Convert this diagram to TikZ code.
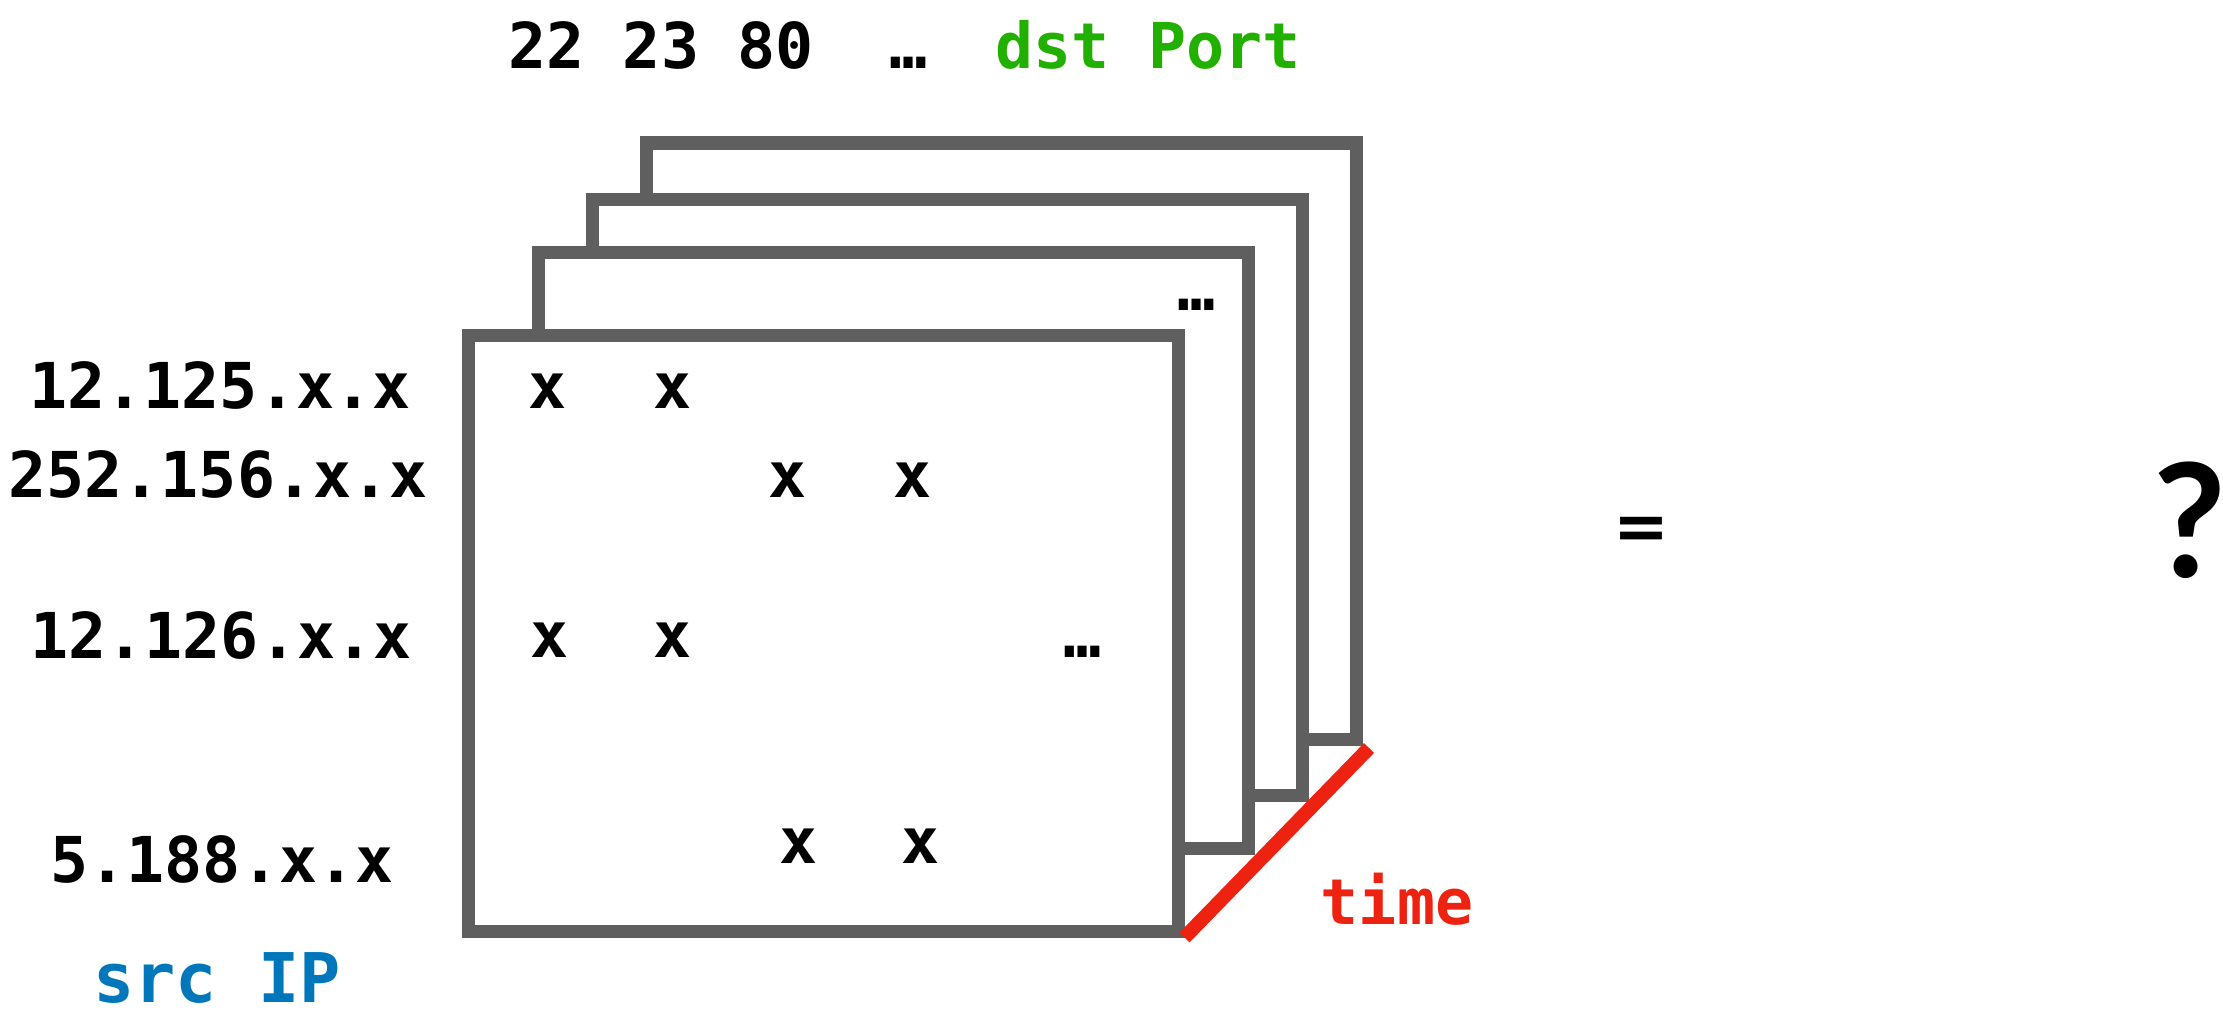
\documentclass[tikz,border=0pt]{standalone}
\usepackage{fontspec}
\setmonofont{DejaVu Sans Mono}
\newfontfamily\eqfont{DejaVu Sans}
\newfontfamily\quesfont{Lato}
\usepackage{tikz}

\definecolor{frameGray}{RGB}{95,95,95}
\definecolor{ipBlue}{RGB}{0,119,187}
\definecolor{portGreen}{RGB}{34,176,0}
\definecolor{timeRed}{RGB}{238,34,17}

\newcommand{\tableFrame}[3]
{
    \node[tableframe] (#1) at (#2,#3) {};
}
\newcommand\cellX[3]{
        \node[cellx] (#1) at (#2,#3) {x};
}

\begin{document}
\begin{tikzpicture}[
    tableframe/.style={draw=frameGray,line width=3.7pt,fill=white,
        minimum width=7.10cm,minimum height=5.96cm,inner sep=0pt},
    lbl/.style={font=\fontsize{18}{20}\selectfont\ttfamily\bfseries,
        anchor=base,inner sep=0pt},
    cellx/.style={lbl},
]
    \useasboundingbox (0,0) rectangle (22.23,10.15);

    %draws the stacked tables, back one first:
    \tableFrame{tab4}{10.01}{5.74}
    \tableFrame{tab3}{9.47}{5.18}
    \tableFrame{tab2}{8.93}{4.65}
    \node[lbl] (moreTab) at (11.97,7.05) {…};
    \tableFrame{tab1}{8.23}{3.82}

    %draws port header:
    \node[lbl,anchor=base west] (ports) at (5.08,9.47) {22 23 80~~…};
    \node[lbl,text=portGreen] (dstPort) at (11.48,9.47) {dst Port};

    %draws ip labels:
    \node[lbl] (ipA) at (2.20,6.07) {12.125.x.x};
    \node[lbl] (ipB) at (2.18,5.18) {252.156.x.x};
    \node[lbl] (ipC) at (2.21,3.57) {12.126.x.x};
    \node[lbl] (ipD) at (2.22,1.33) {5.188.x.x};
    \node[lbl,text=ipBlue,font=\fontsize{19.5}{21}\selectfont\ttfamily\bfseries]
        (srcIP) at (2.17,0.13) {src IP};

    %draws the entries of the front table:
    \cellX{aa}{5.48}{6.07}
    \cellX{ab}{6.73}{6.07}
    \cellX{ba}{7.88}{5.18}
    \cellX{bb}{9.13}{5.18}
    \cellX{ca}{5.50}{3.58}
    \cellX{cb}{6.73}{3.58}
    \cellX{da}{7.99}{1.52}
    \cellX{db}{9.21}{1.52}
    \node[lbl] (moreCol) at (10.83,3.58) {…};

    %draws time axis:
    \coordinate (tend) at (13.69,2.67);
    \draw[timeRed,line width=4pt] (tab1.south east) -- (tend);
    \node[lbl,text=timeRed] (time) at (13.97,0.91) {time};

    %draws right hand side:
    \node[inner sep=0pt,anchor=base,font=\fontsize{19}{21}\selectfont\eqfont\bfseries]
        (equals) at (16.41,4.66) {=};
    \node[inner sep=0pt,anchor=base,font=\fontsize{45}{50}\selectfont\quesfont\bfseries]
        (ques) at (21.90,4.38) {?};

\end{tikzpicture}
\end{document}
